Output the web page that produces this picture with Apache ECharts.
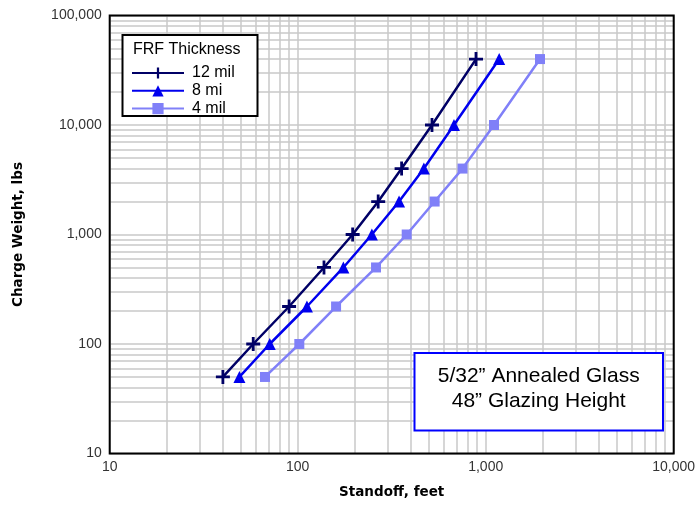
<!DOCTYPE html>
<html>
<head>
<meta charset="utf-8">
<script src="https://cdn.jsdelivr.net/npm/echarts@6/dist/echarts.min.js"></script>
<style>
html,body{margin:0;padding:0;background:#fff;}
#c{width:700px;height:506px;}
</style>
</head>
<body>
<div id="c"></div>
<script>
// Data
var chargeWeight = [50, 100, 220, 500, 1000, 2000, 4000, 10000, 40000];
var standoff12 = [40, 58, 90, 138, 196, 268, 357, 518, 888];
var standoff8 = [49, 71, 112, 175, 248, 346, 469, 678, 1180];
var standoff4 = [67, 102, 160, 261, 380, 535, 753, 1107, 1945];
var seriesNames = ['12 mil', '8 mi', '4 mil'];
var minorX = [20,30,40,50,60,70,80,90,200,300,400,500,600,700,800,900,2000,3000,4000,5000,6000,7000,8000,9000];
var minorY = [20,30,40,50,60,70,80,90,200,300,400,500,600,700,800,900,2000,3000,4000,5000,6000,7000,8000,9000,20000,30000,40000,50000,60000,70000,80000,90000];
var noteLines = ['5/32\u201d Annealed Glass', '48\u201d Glazing Height'];
var legendTitle = 'FRF Thickness';

function pairs(xs, ys){ return xs.map(function(x,i){ return [x, ys[i]]; }); }

var chart = echarts.init(document.getElementById('c'), null, {renderer:'canvas'});
var gridColor = '#c9c9c9';
var font = 'Liberation Sans, Arial, sans-serif';
var boldFont = 'DejaVu Sans, Liberation Sans, sans-serif';
var plusPath = 'path://M4,0H6V4H10V6H6V10H4V6H0V4H4Z';

var markLineData = minorX.map(function(v){ return {xAxis:v}; })
  .concat(minorY.map(function(v){ return {yAxis:v}; }));

var G = {left:109.7, top:15.5, right:26.3, bottom:52.5};

chart.setOption({
  animation:false,
  backgroundColor:'#fff',
  grid:{left:G.left, top:G.top, right:G.right, bottom:G.bottom, show:false},
  xAxis:{
    type:'log', logBase:10, min:10, max:10000,
    name:'Standoff, feet', nameLocation:'middle', nameGap:32,
    nameTextStyle:{fontFamily:boldFont, fontSize:13.5, fontWeight:'bold', color:'#000'},
    axisLine:{show:false}, axisTick:{show:false},
    axisLabel:{fontFamily:font, fontSize:14, color:'#333', margin:7,
      formatter:function(v){ return Number(v).toLocaleString('en-US'); }},
    splitLine:{show:true, lineStyle:{color:gridColor, width:1.5}}
  },
  yAxis:{
    type:'log', logBase:10, min:10, max:100000,
    name:'Charge Weight, lbs', nameLocation:'middle', nameGap:84, nameRotate:90,
    nameTextStyle:{fontFamily:boldFont, fontSize:13.5, fontWeight:'bold', color:'#000'},
    axisLine:{show:false}, axisTick:{show:false},
    axisLabel:{fontFamily:font, fontSize:14, color:'#333', margin:8,
      formatter:function(v){ return Number(v).toLocaleString('en-US'); }},
    splitLine:{show:true, lineStyle:{color:gridColor, width:1.5}}
  },
  legend:{
    z:100, padding:0,
    data:seriesNames, orient:'vertical', left:131, top:65,
    itemWidth:52, itemHeight:14, itemGap:1.8,
    textStyle:{fontFamily:font, fontSize:16, color:'#000', padding:[0,0,0,3]}
  },
  graphic:[
    {type:'rect', z:40, silent:true,
      shape:{x:G.left, y:G.top, width:700-G.left-G.right, height:506-G.top-G.bottom},
      style:{fill:'none', stroke:'#000', lineWidth:2}},
    {type:'rect', z:50, shape:{x:122.5, y:35, width:135, height:81},
      style:{fill:'#fff', stroke:'#000', lineWidth:2}},
    {type:'text', z:51, left:133, top:42,
      style:{text:legendTitle, font:'16px ' + font, fill:'#000'}},
    {type:'rect', z:50, shape:{x:414.5, y:353, width:248.5, height:77.5},
      style:{fill:'#fff', stroke:'#0000ff', lineWidth:2}},
    {type:'text', z:51, x:538.7, y:388.5,
      style:{text:noteLines.join('\n'), font:'21px ' + font, fill:'#000', textAlign:'center', textVerticalAlign:'middle', lineHeight:25}}
  ],
  series:[
    {name:'minor', type:'line', data:[], z:1, silent:true,
      markLine:{silent:true, symbol:'none', label:{show:false}, animation:false,
        lineStyle:{color:gridColor, width:1.5, type:'solid'}, data:markLineData}},
    {name:seriesNames[0], type:'line', z:5, data:pairs(standoff12, chargeWeight),
      symbol:plusPath, symbolSize:14, showAllSymbol:true,
      lineStyle:{color:'#000066', width:2.5}, itemStyle:{color:'#000066'}},
    {name:seriesNames[1], type:'line', z:5, data:pairs(standoff8, chargeWeight),
      symbol:'triangle', symbolSize:12, showAllSymbol:true,
      lineStyle:{color:'#0000ee', width:2.5}, itemStyle:{color:'#0000ee'}},
    {name:seriesNames[2], type:'line', z:5, data:pairs(standoff4, chargeWeight),
      symbol:'rect', symbolSize:10, showAllSymbol:true,
      lineStyle:{color:'#8080f8', width:2.5}, itemStyle:{color:'#8080f8'}}
  ]
});
</script>
</body>
</html>
